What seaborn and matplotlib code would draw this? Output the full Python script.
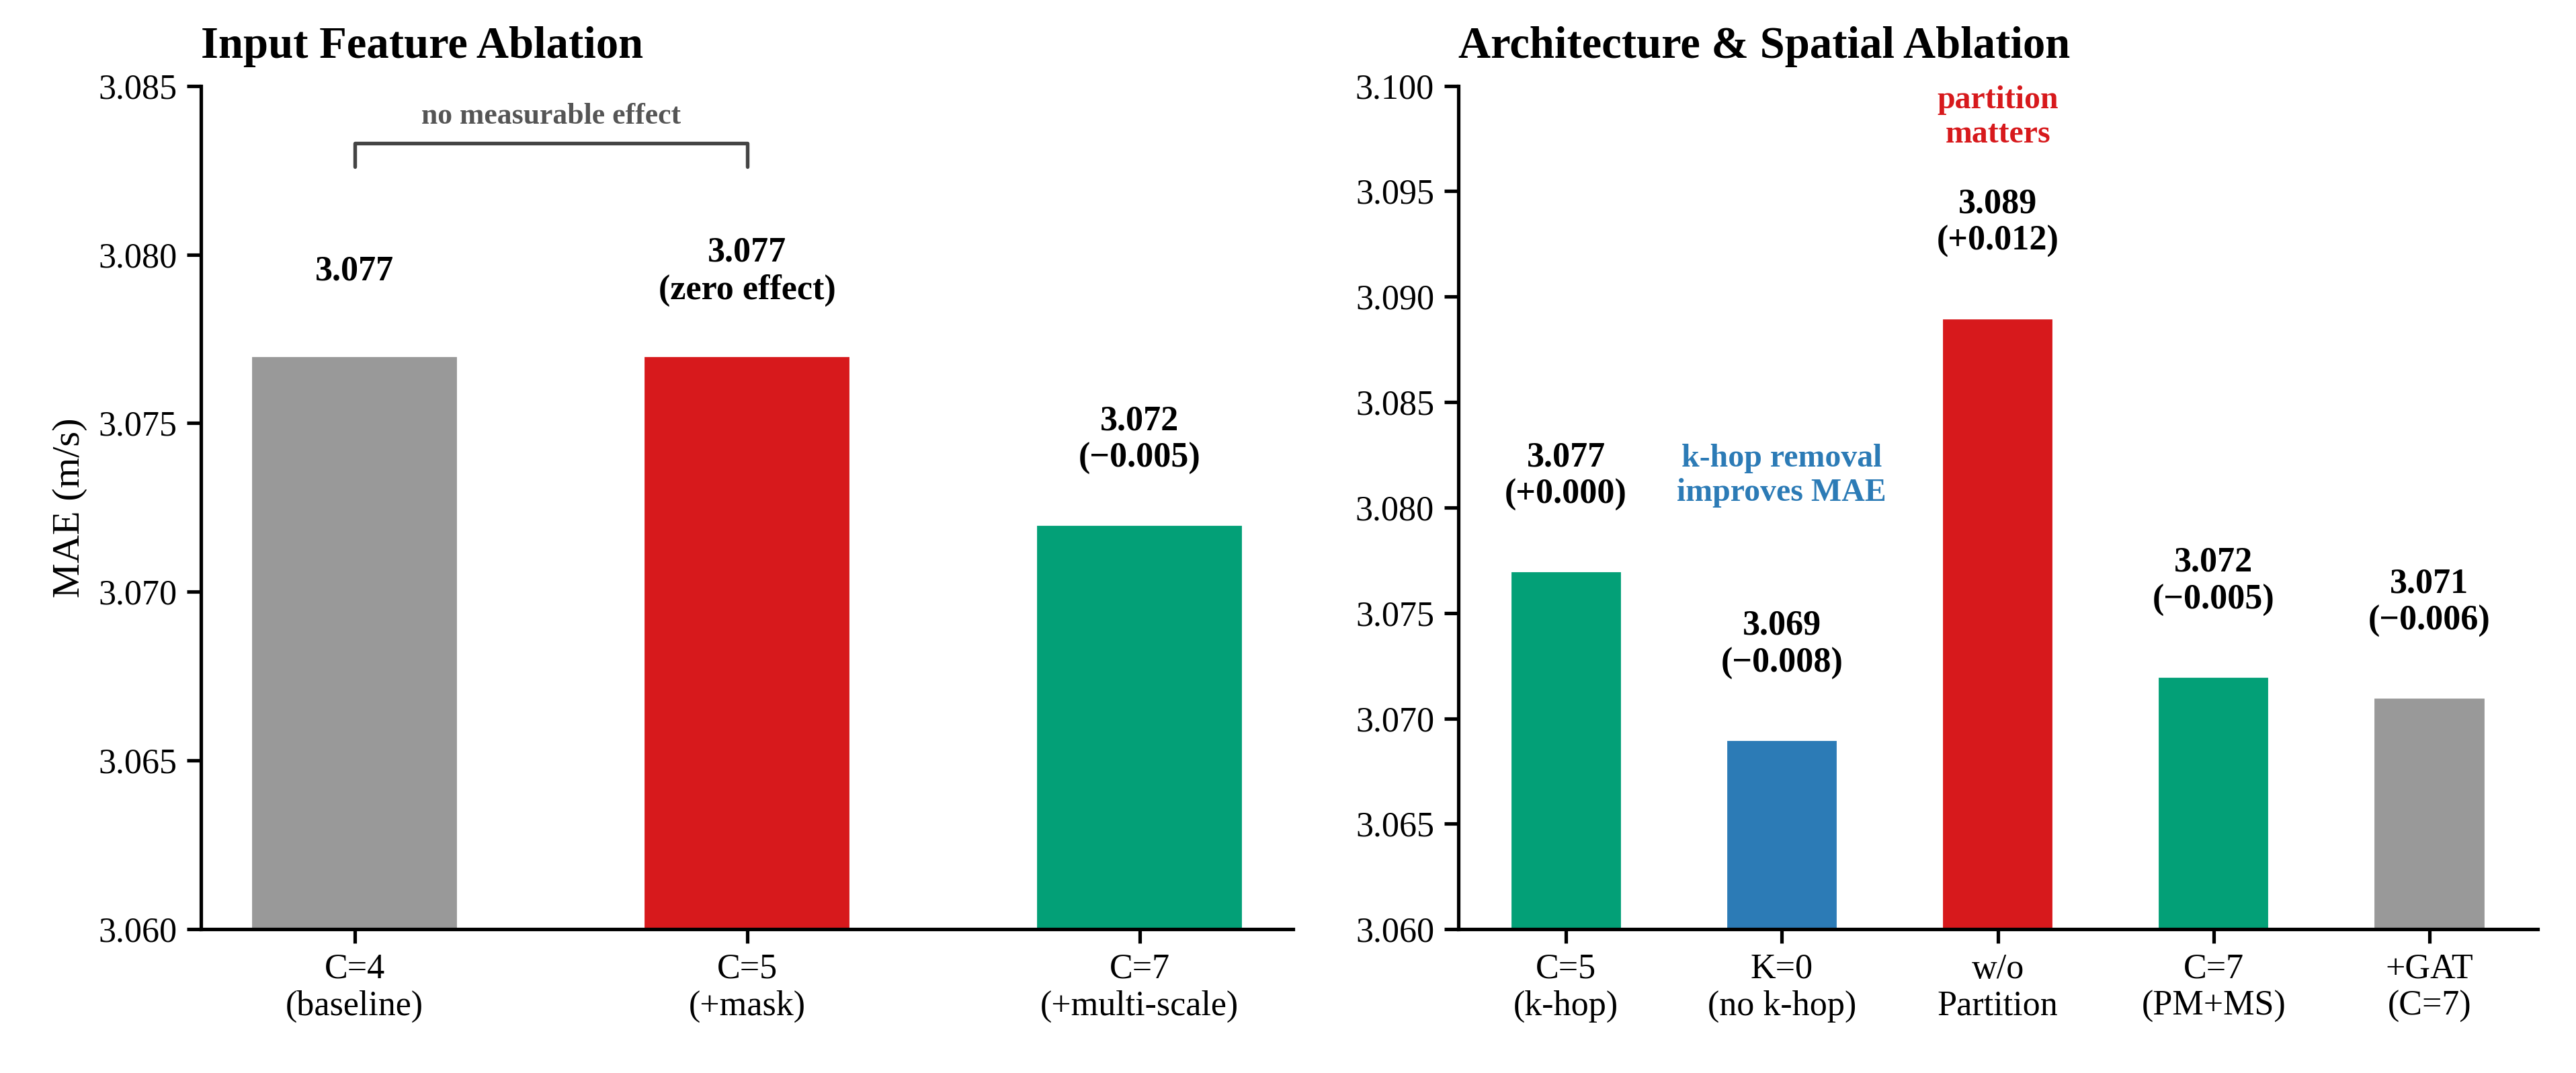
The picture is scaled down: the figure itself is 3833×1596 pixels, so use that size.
import matplotlib
matplotlib.use("Agg")
import matplotlib.pyplot as plt
import seaborn as sns
import pandas as pd

sns.set_theme(style="ticks")
plt.rcParams['font.family'] = ['Liberation Serif', 'DejaVu Serif']
plt.rcParams.update({"text.color": "black", "axes.labelcolor": "black",
                     "xtick.color": "black", "ytick.color": "black", "axes.edgecolor": "black"})

left_cats = ["C=4\n(baseline)", "C=5\n(+mask)", "C=7\n(+multi-scale)"]
left_vals = [3.077, 3.077, 3.072]
left_labels = ["3.077", "3.077\n(zero effect)", "3.072\n(\u22120.005)"]
left_colors = ["#999999", "#D7191C", "#03A077"]

right_cats = ["C=5\n(k-hop)", "K=0\n(no k-hop)", "w/o\nPartition", "C=7\n(PM+MS)", "+GAT\n(C=7)"]
right_vals = [3.077, 3.069, 3.089, 3.072, 3.071]
right_labels = ["3.077\n(+0.000)", "3.069\n(\u22120.008)", "3.089\n(+0.012)", "3.072\n(\u22120.005)", "3.071\n(\u22120.006)"]
right_colors = ["#03A077", "#2C7BB6", "#D7191C", "#03A077", "#999999"]

fig = plt.figure(figsize=(12.777, 5.32), dpi=300)
ax1 = fig.add_axes([0.078, 0.134, 0.424, 0.786])
ax2 = fig.add_axes([0.566, 0.134, 0.419, 0.786])

df1 = pd.DataFrame({"cat": left_cats, "val": left_vals})
sns.barplot(data=df1, x="cat", y="val", hue="cat", palette=left_colors, width=0.53, legend=False, ax=ax1, saturation=1)
df2 = pd.DataFrame({"cat": right_cats, "val": right_vals})
sns.barplot(data=df2, x="cat", y="val", hue="cat", palette=right_colors, width=0.52, legend=False, ax=ax2, saturation=1)

ax1.set_ylim(3.060, 3.085)
ax1.set_yticks([3.060, 3.065, 3.070, 3.075, 3.080, 3.085])
ax2.set_ylim(3.060, 3.100)
ax2.set_yticks([3.060 + 0.005 * i for i in range(9)])
for ax in (ax1, ax2):
    ax.yaxis.set_major_formatter(matplotlib.ticker.FormatStrFormatter('%.3f'))
    ax.set_xlabel("")
    ax.tick_params(labelsize=12.5, length=5, color="black")
    sns.despine(ax=ax)
ax1.set_ylabel("MAE (m/s)", fontsize=14)
ax2.set_ylabel("")
ax1.set_title("Input Feature Ablation", fontsize=16, fontweight="bold", loc="left", pad=10)
ax2.set_title("Architecture & Spatial Ablation", fontsize=16, fontweight="bold", loc="left", pad=10)

for i, (v, t) in enumerate(zip(left_vals, left_labels)):
    y = 3.0795 if i < 2 else 3.0745
    ax1.text(i, y, t, ha="center", va="center", fontsize=12.5, fontweight="bold")
ax1.plot([0, 0, 1, 1], [3.0826, 3.0833, 3.0833, 3.0826], color="#444444", lw=1.3)
ax1.text(0.5, 3.0841, "no measurable effect", ha="center", va="center", fontsize=10.5, fontweight="bold", color="#555555")

for i, (v, t) in enumerate(zip(right_vals, right_labels)):
    ax2.text(i, v + 0.0045, t, ha="center", va="center", fontsize=12.5, fontweight="bold")
ax2.text(1, 3.0815, "k-hop removal\nimproves MAE", ha="center", va="center", fontsize=11.5, fontweight="bold", color="#2C7BB6")
ax2.text(2, 3.0985, "partition\nmatters", ha="center", va="center", fontsize=11.5, fontweight="bold", color="#D7191C")

fig.savefig("out.png", dpi=300)
